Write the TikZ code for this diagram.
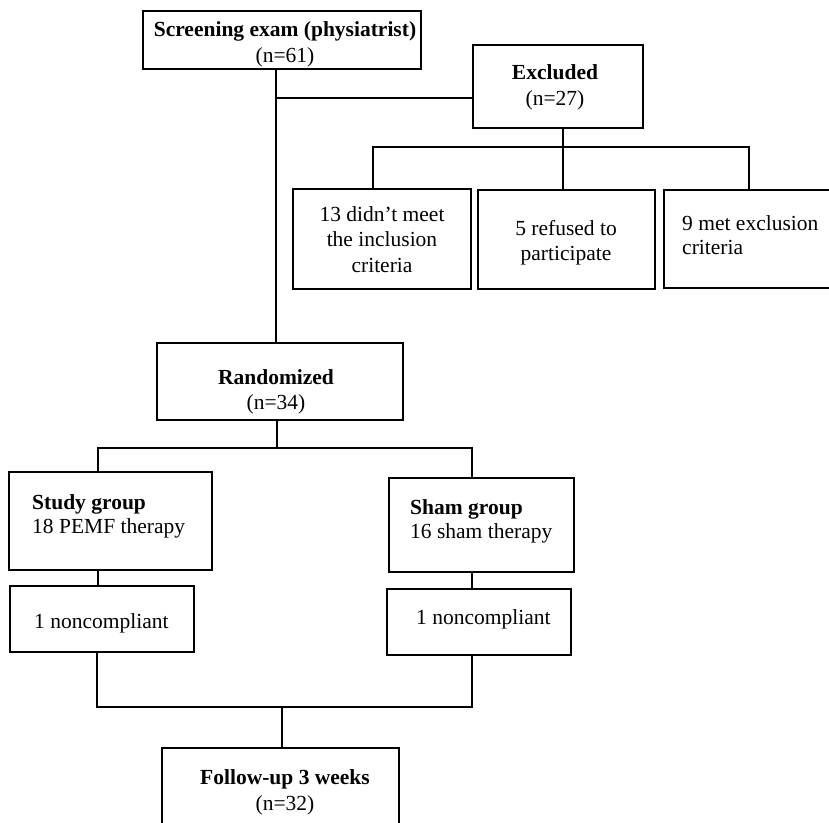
\documentclass[tikz,border=0pt]{standalone}
\usepackage{fontspec}
\setmainfont{Liberation Serif}
\begin{document}
\begin{tikzpicture}[x=1pt,y=-1pt,
  box/.style={draw, line width=1.5pt, inner sep=0pt},
  txt/.style={font=\fontsize{21.5}{25.5}\selectfont, inner sep=0pt, align=center},
  ltxt/.style={font=\fontsize{21.5}{24}\selectfont, inner sep=0pt, align=left, anchor=west},
  link/.style={line width=1.5pt}]
\useasboundingbox (0,0) rectangle (829,822);

% boxes
\node[box, minimum width=278pt, minimum height=58pt] (screen) at (282,40) {};
\node[box, minimum width=170pt, minimum height=83pt] (excl) at (558,86.5) {};
\node[box, minimum width=178pt, minimum height=100pt] (b1) at (382,239) {};
\node[box, minimum width=177pt, minimum height=99pt] (b2) at (566.5,239.5) {};
\node[box, minimum width=176pt, minimum height=98pt] (b3) at (752,239) {};
\node[box, minimum width=246pt, minimum height=77pt] (rand) at (280,381.5) {};
\node[box, minimum width=203pt, minimum height=98pt] (study) at (110.5,521) {};
\node[box, minimum width=185pt, minimum height=94pt] (sham) at (481.5,525) {};
\node[box, minimum width=184pt, minimum height=66pt] (nc1) at (102,619) {};
\node[box, minimum width=184pt, minimum height=66pt] (nc2) at (479,622) {};
\node[box, minimum width=237pt, minimum height=88pt] (fu) at (280.5,792) {};

% texts
\node[txt] (tscreen) at (285,44.5) {\textbf{Screening exam (physiatrist)}\\(n=61)};
\node[txt] (texcl) at (555,87.5) {\textbf{Excluded}\\(n=27)};
\node[txt] (tb1) at (382,239.5) {13 didn’t meet\\the inclusion\\criteria};
\node[txt] (tb2) at (566,242.5) {5 refused to\\participate};
\node[ltxt] (tb3) at (682,235.5) {9 met exclusion\\criteria};
\node[txt] (trand) at (276,392) {\textbf{Randomized}\\(n=34)};
\node[ltxt] (tstudy) at (32,516) {\textbf{Study group}\\18 PEMF therapy};
\node[ltxt] (tsham) at (410,521) {\textbf{Sham group}\\16 sham therapy};
\node[ltxt] (tnc1) at (34,623) {1 noncompliant};
\node[ltxt] (tnc2) at (416,619) {1 noncompliant};
\node[txt] (tfu) at (285,792.5) {\textbf{Follow-up 3 weeks}\\(n=32)};

% junction coordinates
\coordinate (j1) at (276,98);
\coordinate (j2) at (563,147);
\coordinate (k1) at (373,147);
\coordinate (k3) at (749,147);
\coordinate (r1) at (277,448);
\coordinate (s1) at (98,448);
\coordinate (s2) at (472,448);
\coordinate (f0) at (282,707);
\coordinate (f1) at (97,707);
\coordinate (f2) at (472,707);

% connectors
\draw[link] (screen.south -| j1) -- (rand.north -| j1);
\draw[link] (j1) -- (excl.west |- j1);
\draw[link] (excl.south -| j2) -- (b2.north -| j2);
\draw[link] (b1.north -| k1) -- (k1) -- (k3) -- (b3.north -| k3);
\draw[link] (rand.south -| r1) -- (r1);
\draw[link] (study.north -| s1) -- (s1) -- (s2) -- (sham.north -| s2);
\draw[link] (study.south -| s1) -- (nc1.north -| s1);
\draw[link] (sham.south -| s2) -- (nc2.north -| s2);
\draw[link] (nc1.south -| f1) -- (f1) -- (f2) -- (nc2.south -| f2);
\draw[link] (f0) -- (fu.north -| f0);
\end{tikzpicture}
\end{document}
